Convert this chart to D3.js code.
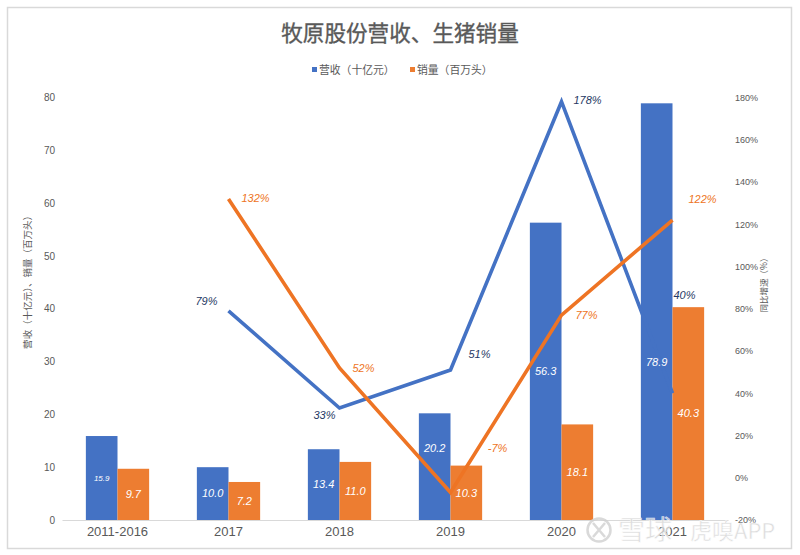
<html>
<head>
  <meta charset="utf-8">
  <script src="https://d3js.org/d3.v7.min.js"></script>
  <style>
    html, body { margin: 0; padding: 0; background: #fff; }
    svg { display: block; }
    text { font-family: "Noto Sans CJK SC", "Liberation Sans", sans-serif; }
    .num text, text.num { font-family: "Liberation Sans", "Noto Sans CJK SC", sans-serif; }
    .axis .domain { stroke: none; }
  </style>
</head>
<body>
  <svg id="chart" width="800" height="555"></svg>
  <script>
    const categories = ["2011-2016", "2017", "2018", "2019", "2020", "2021"];
    const revenue = [15.9, 10.0, 13.4, 20.2, 56.3, 78.9];
    const sales = [9.7, 7.2, 11.0, 10.3, 18.1, 40.3];
    const lineCategories = ["2017", "2018", "2019", "2020", "2021"];
    const revenueGrowth = [79, 33, 51, 178, 40];
    const salesGrowth = [132, 52, -7, 77, 122];
    const leftTicks = [0, 10, 20, 30, 40, 50, 60, 70, 80];
    const rightTicks = [-20, 0, 20, 40, 60, 80, 100, 120, 140, 160, 180];

    const blue = "#4472c4";
    const orange = "#ed7d31";
    const lineOrange = "#ee7424";

    const svg = d3.select("#chart");

    // outer frame
    svg.append("rect")
      .attr("x", 7.5).attr("y", 7.5)
      .attr("width", 784).attr("height", 541)
      .attr("fill", "#fff")
      .attr("stroke", "#d9d9d9")
      .attr("stroke-width", 1.5);

    const xScale = d3.scaleBand().domain(categories).range([62, 728])
      .paddingInner(0.43).paddingOuter(0.215);
    const subScale = d3.scaleBand().domain(["revenue", "sales"]).range([0, xScale.bandwidth()]);
    const yLeft = d3.scaleLinear().domain([0, 80]).range([520, 97.5]);
    const yRight = d3.scaleLinear().domain([-20, 180]).range([520, 97.5]);
    const center = c => xScale(c) + xScale.bandwidth() / 2;

    // title
    svg.append("text")
      .attr("x", 400).attr("y", 41)
      .attr("text-anchor", "middle")
      .attr("font-size", 21.6)
      .attr("fill", "#595959")
      .attr("stroke", "#595959")
      .attr("stroke-width", 0.35)
      .text("牧原股份营收、生猪销量");

    // legend
    const legend = [
      { x: 312, color: blue, label: "营收（十亿元）" },
      { x: 410, color: orange, label: "销量（百万头）" }
    ];
    legend.forEach(d => {
      svg.append("rect")
        .attr("x", d.x).attr("y", 67)
        .attr("width", 5).attr("height", 5)
        .attr("fill", d.color);
      svg.append("text")
        .attr("x", d.x + 7).attr("y", 73.5)
        .attr("font-size", 10.8)
        .attr("fill", "#595959")
        .text(d.label);
    });

    // axes
    const leftAxis = d3.axisLeft(yLeft).tickValues(leftTicks).tickSize(0).tickPadding(0);
    const gLeft = svg.append("g")
      .attr("class", "axis num")
      .attr("transform", "translate(55,0)")
      .call(leftAxis);
    gLeft.selectAll("text").attr("font-size", 10).attr("fill", "#595959");

    const rightAxis = d3.axisRight(yRight).tickValues(rightTicks).tickSize(0).tickPadding(0)
      .tickFormat(d => d + "%");
    const gRight = svg.append("g")
      .attr("class", "axis num")
      .attr("transform", "translate(735,0)")
      .call(rightAxis);
    gRight.selectAll("text").attr("font-size", 9).attr("fill", "#595959");

    // axis titles
    svg.append("text")
      .attr("transform", "translate(31,280) rotate(-90)")
      .attr("text-anchor", "middle")
      .attr("font-size", 9.5)
      .attr("fill", "#595959")
      .text("营收（十亿元）、销量（百万头）");
    svg.append("text")
      .attr("transform", "translate(767,283) rotate(-90)")
      .attr("text-anchor", "middle")
      .attr("font-size", 8.5)
      .attr("fill", "#595959")
      .text("同比增速（%）");

    // bars
    svg.selectAll(".bar-rev").data(revenue).join("rect")
      .attr("class", "bar-rev")
      .attr("x", (d, i) => xScale(categories[i]) + subScale("revenue"))
      .attr("y", d => yLeft(d))
      .attr("width", subScale.bandwidth())
      .attr("height", d => yLeft(0) - yLeft(d))
      .attr("fill", blue);
    svg.selectAll(".bar-sales").data(sales).join("rect")
      .attr("class", "bar-sales")
      .attr("x", (d, i) => xScale(categories[i]) + subScale("sales"))
      .attr("y", d => yLeft(d))
      .attr("width", subScale.bandwidth())
      .attr("height", d => yLeft(0) - yLeft(d))
      .attr("fill", orange);

    // baseline and category labels
    const gBottom = svg.append("g")
      .attr("class", "num")
      .attr("transform", "translate(0,520)")
      .call(d3.axisBottom(xScale).tickSize(0).tickPadding(7));
    gBottom.select(".domain").attr("stroke", "#d9d9d9").attr("stroke-width", 1.2);
    gBottom.selectAll("text").attr("font-size", 13).attr("fill", "#595959");

    // growth lines, the blue one melts into the blue bar as in the original
    const line = d3.line()
      .x((d, i) => center(lineCategories[i]))
      .y(d => yRight(d));
    svg.append("path").datum(revenueGrowth)
      .attr("d", line).attr("fill", "none")
      .attr("stroke", blue).attr("stroke-width", 3.6);
    svg.append("path").datum(salesGrowth)
      .attr("d", line).attr("fill", "none")
      .attr("stroke", lineOrange).attr("stroke-width", 3.6);

    // bar value labels, two of them moved off the bar middle as in the original
    const barLabel = (values, key, shift) => {
      values.forEach((v, i) => {
        const c = categories[i];
        svg.append("text")
          .attr("class", "num")
          .attr("x", xScale(c) + subScale(key) + subScale.bandwidth() / 2)
          .attr("y", (yLeft(v) + yLeft(0)) / 2 + (shift[i] || 0))
          .attr("dy", "0.35em")
          .attr("text-anchor", "middle")
          .attr("font-size", i === 0 && key === "revenue" ? 8 : 11)
          .attr("font-style", "italic")
          .attr("fill", "#fff")
          .text(v.toFixed(1));
      });
    };
    barLabel(revenue, "revenue", [0, 0, 0, -19, 0, 50]);
    barLabel(sales, "sales", []);

    // growth labels
    const growthLabel = (values, color, offsets) => {
      values.forEach((v, i) => {
        svg.append("text")
          .attr("class", "num")
          .attr("x", center(lineCategories[i]) + offsets[i][0])
          .attr("y", yRight(v) + offsets[i][1])
          .attr("dy", "0.35em")
          .attr("text-anchor", "middle")
          .attr("font-size", 11)
          .attr("font-style", "italic")
          .attr("fill", color)
          .text(v + "%");
      });
    };
    growthLabel(revenueGrowth, "#1f3864", [[-22, -10], [-15, 7], [29, -16], [26, -2], [12, -98]]);
    growthLabel(salesGrowth, "#ee7424", [[27, -1], [24, 0], [47, -44], [25, 0], [30, -21]]);

    // watermark
    const mark = svg.append("g").attr("opacity", 0.8);
    mark.append("circle")
      .attr("cx", 599).attr("cy", 530).attr("r", 11.5)
      .attr("fill", "none").attr("stroke", "#d0d0d0").attr("stroke-width", 2.5);
    mark.append("path")
      .attr("d", "M593,523 L605,537 M605,523 L593,537")
      .attr("fill", "none").attr("stroke", "#d0d0d0").attr("stroke-width", 2.5);
    mark.append("text")
      .attr("x", 618).attr("y", 540)
      .attr("font-size", 27)
      .attr("fill", "#d4d4d4")
      .attr("stroke", "#fff").attr("stroke-width", 0.6)
      .text("雪球");
    mark.append("text")
      .attr("x", 690).attr("y", 539)
      .attr("font-size", 22)
      .attr("fill", "#d4d4d4")
      .attr("stroke", "#fff").attr("stroke-width", 0.5)
      .text("虎嗅APP");
  </script>
</body>
</html>
